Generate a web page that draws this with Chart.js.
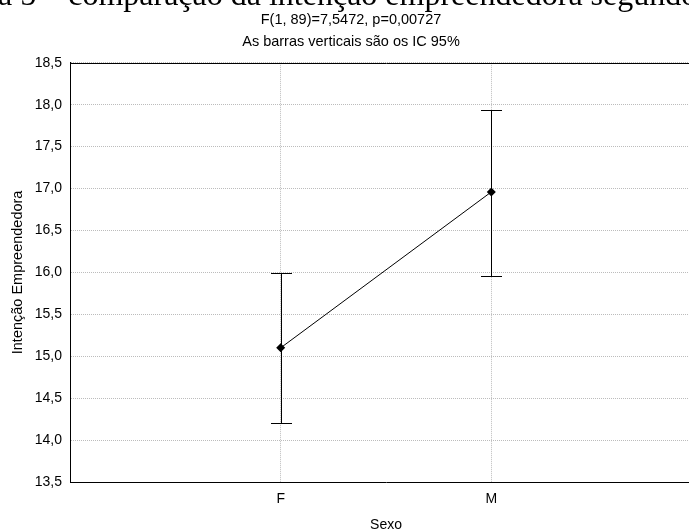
<!DOCTYPE html>
<html>
<head>
<meta charset="utf-8">
<script src="https://cdn.jsdelivr.net/npm/chart.js@4/dist/chart.umd.min.js"></script>
<style>
  html, body { margin: 0; padding: 0; background: #fff; overflow: hidden; }
  #wrap { position: relative; width: 689px; height: 531px; overflow: hidden; background: #fff; }
  #chart { position: absolute; left: 0; top: 0; }
  #capt { position: absolute; left: -2px; top: -22px; white-space: nowrap;
          font-family: "Liberation Serif", "Times New Roman", serif; font-size: 32px;
          line-height: 32px; color: #000; z-index: 2; }
</style>
</head>
<body>
<div id="wrap">
  <div id="capt">a 5 – comparação da intenção empreendedora segundo</div>
  <canvas id="chart" width="712" height="540"></canvas>
</div>
<script>
// ---- data ----
const categories = ['F', 'M'];
const means = [15.10, 16.96];
const ciLower = [14.20, 15.96];
const ciUpper = [15.99, 17.94];
const yTickValues = [13.5, 14.0, 14.5, 15.0, 15.5, 16.0, 16.5, 17.0, 17.5, 18.0, 18.5];
const titleText = 'F(1, 89)=7,5472, p=0,00727';
const subtitleText = 'As barras verticais são os IC 95%';
const yAxisTitle = 'Intenção Empreendedora';
const xAxisTitle = 'Sexo';

const FONT = '"Liberation Sans", Arial, sans-serif';
const GRID = '#bcbcbc';

const errorBars = {
  id: 'errorBars',
  beforeDatasetsDraw(chart) {
    const ctx = chart.ctx, xs = chart.scales.x, ys = chart.scales.y;
    ctx.save();
    ctx.strokeStyle = '#000';
    ctx.lineWidth = 1;
    categories.forEach((c, i) => {
      const x = Math.round(xs.getPixelForValue(i)) + 0.5;
      const yl = Math.round(ys.getPixelForValue(ciLower[i])) + 0.5;
      const yh = Math.round(ys.getPixelForValue(ciUpper[i])) + 0.5;
      const cap = 10.5;
      ctx.beginPath();
      ctx.moveTo(x, yl); ctx.lineTo(x, yh);
      ctx.moveTo(x - cap, yl); ctx.lineTo(x + cap, yl);
      ctx.moveTo(x - cap, yh); ctx.lineTo(x + cap, yh);
      ctx.stroke();
    });
    ctx.restore();
  },
  afterDraw(chart) {
    const ctx = chart.ctx, a = chart.chartArea;
    ctx.save();
    ctx.strokeStyle = '#000';
    ctx.lineWidth = 1;
    const t = Math.round(a.top) + 0.5;
    ctx.beginPath();
    ctx.moveTo(Math.round(a.left), t); ctx.lineTo(Math.round(a.right) + 1, t);
    ctx.moveTo(Math.round(a.right) + 0.5, Math.round(a.top)); ctx.lineTo(Math.round(a.right) + 0.5, Math.round(a.bottom) + 1);
    ctx.stroke();
    ctx.restore();
  }
};

new Chart(document.getElementById('chart'), {
  type: 'line',
  data: {
    datasets: [{
      data: categories.map((c, i) => ({ x: i, y: means[i] })),
      borderColor: '#000',
      borderWidth: 1,
      backgroundColor: '#000',
      pointStyle: 'rectRot',
      pointRadius: 4.5,
      pointBackgroundColor: '#000',
      pointBorderColor: '#000',
      pointBorderWidth: 0,
      tension: 0,
      fill: false
    }]
  },
  options: {
    responsive: false,
    animation: false,
    devicePixelRatio: 1,
    layout: { padding: { left: 0, right: 10, top: 0, bottom: 0 } },
    plugins: {
      legend: { display: false },
      tooltip: { enabled: false },
      title: {
        display: true, text: titleText, color: '#000',
        font: { family: FONT, size: 14.5, weight: 'normal', lineHeight: 1.2 },
        padding: { top: 11, bottom: 0 }
      },
      subtitle: {
        display: true, text: subtitleText, color: '#000',
        font: { family: FONT, size: 14.5, weight: 'normal', lineHeight: 1.2 },
        padding: { top: 5, bottom: 12 }
      }
    },
    scales: {
      x: {
        type: 'linear', position: 'bottom', min: -1, max: 2,
        afterBuildTicks(scale) { scale.ticks = [-1, 0, 1, 2].map(v => ({ value: v })); },
        afterFit(scale) { scale.height = 58; },
        ticks: {
          autoSkip: false, maxRotation: 0, color: '#000', padding: 9,
          font: { family: FONT, size: 14 },
          callback: v => (categories[v] !== undefined ? categories[v] : '')
        },
        grid: {
          drawTicks: false,
          color: ctx => (ctx.tick && categories[ctx.tick.value] !== undefined) ? GRID : 'rgba(0,0,0,0)',
          lineWidth: 1
        },
        border: { display: true, color: '#000', width: 1, dash: [1, 1] },
        title: {
          display: true, text: xAxisTitle, color: '#000',
          font: { family: FONT, size: 14, lineHeight: 1.2 },
          padding: { top: 0, bottom: 6 }
        }
      },
      y: {
        type: 'linear', min: 13.5, max: 18.5,
        afterBuildTicks(scale) { scale.ticks = yTickValues.map(v => ({ value: v })); },
        afterFit(scale) { scale.width = 70; },
        ticks: {
          color: '#000', padding: 8,
          font: { family: FONT, size: 14 },
          callback: v => Number(v).toFixed(1).replace('.', ',')
        },
        grid: { drawTicks: false, color: GRID, lineWidth: 1 },
        border: { display: true, color: '#000', width: 1, dash: [1, 1] },
        title: {
          display: true, text: yAxisTitle, color: '#000',
          font: { family: FONT, size: 14.5, lineHeight: 1.2 },
          padding: { top: 9, bottom: 0 }
        }
      }
    }
  },
  plugins: [errorBars]
});
</script>
</body>
</html>
